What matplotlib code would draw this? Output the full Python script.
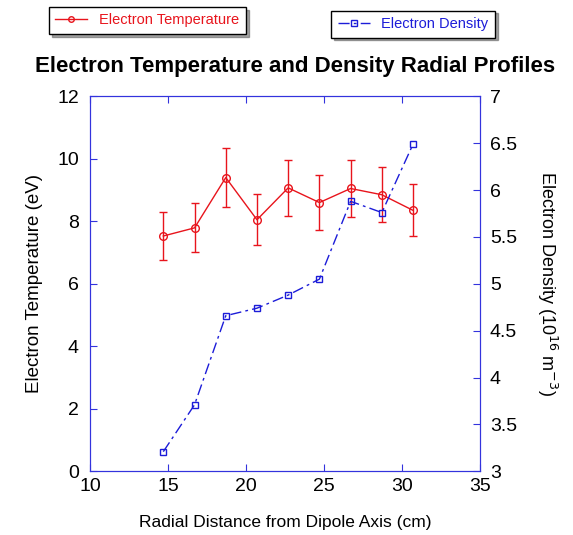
import matplotlib.pyplot as plt
from matplotlib.lines import Line2D

plt.rcParams['font.family'] = ['Liberation Sans', 'DejaVu Sans']

# data
radius = [14.7, 16.7, 18.7, 20.7, 22.7, 24.7, 26.7, 28.7, 30.7]
temp = [7.53, 7.79, 9.40, 8.05, 9.07, 8.60, 9.05, 8.85, 8.35]
temp_err = [0.77, 0.78, 0.94, 0.82, 0.90, 0.87, 0.91, 0.88, 0.83]
density = [3.21, 3.71, 4.66, 4.74, 4.88, 5.05, 5.88, 5.76, 6.49]

red = '#e8141c'
blue = '#1c1cd8'
spine_col = '#3333dd'

fig = plt.figure(figsize=(5.73, 5.35), dpi=100)
ax = fig.add_axes([0.157, 0.119, 0.681, 0.701])
ax2 = ax.twinx()

# temperature with error bars
ax.errorbar(radius, temp, yerr=temp_err, color=red, lw=1, marker='o',
            ms=5.5, mfc='none', mec=red, capsize=3, elinewidth=1)
# density, dash-dot
ax2.plot(radius, density, color=blue, lw=1, dashes=(8, 3, 2, 3),
         marker='s', ms=5, mfc='none', mec=blue)

ax.set_xlim(10, 35)
ax.set_ylim(0, 12)
ax2.set_ylim(3, 7)
ax.set_xticks([10, 15, 20, 25, 30, 35])
ax.set_yticks(range(0, 13, 2))
ax2.set_yticks([3, 3.5, 4, 4.5, 5, 5.5, 6, 6.5, 7])
ax2.set_yticklabels(['3', '3.5', '4', '4.5', '5', '5.5', '6', '6.5', '7'])

for a in (ax, ax2):
    for s in a.spines.values():
        s.set_color(spine_col)
    a.tick_params(direction='in', color=spine_col, labelsize=14, length=5,
                  labelcolor='black')
ax.tick_params(axis='x', top=True, pad=5)
ax.tick_params(axis='y', pad=8)
ax2.tick_params(axis='y', pad=7)

ax.set_xlabel('Radial Distance from Dipole Axis (cm)', fontsize=12.5, labelpad=14)
ax.set_ylabel('Electron Temperature (eV)', fontsize=13.5, labelpad=10)
ax2.set_ylabel('Electron Density (10$^{16}$ m$^{-3}$)', fontsize=13,
               rotation=270, labelpad=30)

fig.text(0.515, 0.876, 'Electron Temperature and Density Radial Profiles',
         ha='center', va='center', fontsize=16, fontweight='bold')

# two separate legend boxes with shadows
h1 = Line2D([], [], color=red, lw=1, marker='o', ms=4, mfc='none', mec=red)
h2 = Line2D([], [], color=blue, lw=1, dashes=(8, 3, 2, 3), marker='s', ms=4,
            mfc='none', mec=blue)
leg1 = fig.legend([h1], ['Electron Temperature'], loc='center',
                  bbox_to_anchor=(0.257, 0.962), fontsize=10.5, frameon=True,
                  fancybox=False, shadow=True, edgecolor='black',
                  handlelength=2.2, borderpad=0.45)
leg1.get_texts()[0].set_color(red)
leg2 = fig.legend([h2], ['Electron Density'], loc='center',
                  bbox_to_anchor=(0.721, 0.955), fontsize=10.5, frameon=True,
                  fancybox=False, shadow=True, edgecolor='black',
                  handlelength=2.2, borderpad=0.45)
leg2.get_texts()[0].set_color(blue)

fig.savefig('out.png', dpi=100)
